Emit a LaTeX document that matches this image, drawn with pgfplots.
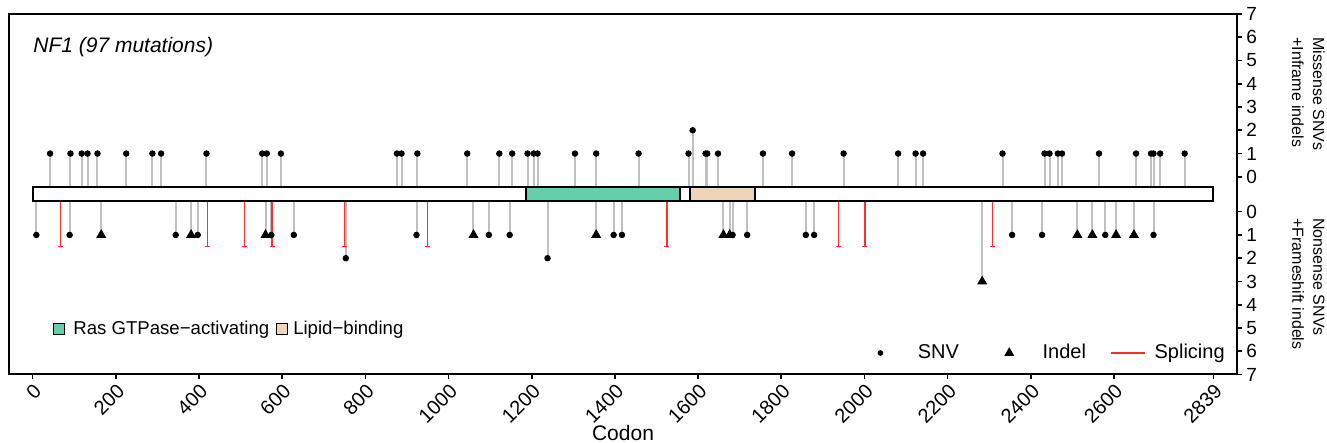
\documentclass[border=0pt]{standalone}
\usepackage{fontspec}
\setmainfont{Liberation Sans}
\usepackage{pgfplots}
\usepackage{pgfplotstable}
\pgfplotsset{compat=1.18}
\definecolor{rasgreen}{RGB}{102,205,170}
\definecolor{lipid}{RGB}{238,213,183}
\definecolor{stemgray}{RGB}{192,192,192}
\definecolor{splred}{RGB}{255,45,45}

% position (codon), number of mutations
\pgfplotstableread{
pos n
42 1
91 1
118 1
132 1
156 1
225 1
288 1
309 1
418 1
552 1
563 1
597 1
876 1
887 1
925 1
1045 1
1122 1
1153 1
1190 1
1205 1
1214 1
1304 1
1355 1
1457 1
1577 1
1587 2
1618 1
1622 1
1648 1
1756 1
1826 1
1950 1
2081 1
2123 1
2141 1
2332 1
2433 1
2445 1
2465 1
2475 1
2564 1
2653 1
2689 1
2695 1
2711 1
2770 1
}\upsnv

\pgfplotstableread{
pos n
9 1
89 1
344 1
397 1
574 1
628 1
753 2
923 1
1097 1
1147 1
1238 2
1397 1
1417 1
1683 1
1718 1
1859 1
1879 1
2355 1
2427 1
2579 1
2695 1
}\lowsnv

\pgfplotstableread{
pos n
165 1
381 1
560 1
1060 1
1355 1
1661 1
1676 1
2283 3
2512 1
2548 1
2605 1
2648 1
}\lowindel

\pgfplotstableread{
pos n
67 1.5
421 1.5
510 1.5
576 1.5
750 1.5
949 1.5
1525 1.5
1938 1.5
2001 1.5
2308 1.5
}\splice

\begin{document}
\begin{tikzpicture}
\pgfplotsset{
  every axis/.append style={
    scale only axis, width=614pt, height=180.25pt,
    xmin=-56.78, xmax=2895.78, ymin=-7.75, ymax=7.75,
    at={(0pt,0pt)}, anchor=south west, clip=false,
  }
}
\begin{axis}[
  axis line style={line width=1pt},
  tick align=outside,
  major tick length=2.5pt,
  tick style={black, line width=0.8pt},
  xtick pos=left,
  ytick pos=right,
  yticklabel pos=right,
  xtick={0,200,400,600,800,1000,1200,1400,1600,1800,2000,2200,2400,2600,2839},
  xticklabels={0,200,400,600,800,1000,1200,1400,1600,1800,2000,2200,2400,2600,2839},
  xticklabel style={rotate=45, anchor=north east, font=\fontsize{10}{12}\selectfont, inner sep=1pt},
  ytick={-7.75,-6.75,-5.75,-4.75,-3.75,-2.75,-1.75,-0.75,0.75,1.75,2.75,3.75,4.75,5.75,6.75,7.75},
  yticklabels={7,6,5,4,3,2,1,0,0,1,2,3,4,5,6,7},
  yticklabel style={font=\fontsize{9.5}{11}\selectfont, inner sep=2pt},
  xlabel={Codon},
  xlabel style={font=\fontsize{10.5}{12}\selectfont, at={(axis description cs:0.5,-0.1623)}, anchor=center},
  legend style={draw=none, fill=none, inner sep=0pt,
    at={(axis description cs:0.9919,0.0596)}, anchor=east,
    font=\fontsize{10}{12}\selectfont,
    nodes={inner sep=1pt},
    /tikz/column 1/.style={column sep=16.5pt},
    /tikz/column 2/.style={column sep=22pt},
    /tikz/column 3/.style={column sep=13.5pt},
    /tikz/column 4/.style={column sep=11pt},
    /tikz/column 5/.style={column sep=3.5pt}},
  legend columns=6,
]
% stems
\addplot[ycomb, stemgray, line width=1pt, no marks, forget plot] table[x=pos, y expr=\thisrow{n}+0.75] {\upsnv};
\addplot[ycomb, stemgray, line width=1pt, no marks, forget plot] table[x=pos, y expr=-\thisrow{n}-0.75] {\lowsnv};
\addplot[ycomb, stemgray, line width=1pt, no marks, forget plot] table[x=pos, y expr=-\thisrow{n}-0.75] {\lowindel};
\addplot[ycomb, splred, line width=0.75pt, mark=-, mark size=1.3pt, forget plot] table[x=pos, y expr=-\thisrow{n}-0.75] {\splice};
% protein and domains
\addplot[draw=black, fill=white, line width=1pt, forget plot] coordinates {(0,-0.3) (2839,-0.3) (2839,0.3) (0,0.3)} -- cycle;
\addplot[draw=black, fill=rasgreen, line width=1pt, forget plot] coordinates {(1187,-0.3) (1557,-0.3) (1557,0.3) (1187,0.3)} -- cycle;
\addplot[draw=black, fill=lipid, line width=1pt, forget plot] coordinates {(1580,-0.3) (1738,-0.3) (1738,0.3) (1580,0.3)} -- cycle;
% marks
\addplot[only marks, mark=*, mark size=1.4pt, black, forget plot] table[x=pos, y expr=\thisrow{n}+0.75] {\upsnv};
\addplot[only marks, mark=*, mark size=1.4pt, black, forget plot] table[x=pos, y expr=-\thisrow{n}-0.75] {\lowsnv};
\addplot[only marks, mark=triangle*, mark size=2.5pt, black, forget plot] table[x=pos, y expr=-\thisrow{n}-0.75] {\lowindel};
% legend
\addlegendimage{only marks, mark=*, mark size=1.2pt, black}
\addlegendentry{SNV}
\addlegendimage{only marks, mark=triangle*, mark size=2.5pt, black}
\addlegendentry{Indel}
\addlegendimage{no marks, splred, line width=0.75pt}
\addlegendentry{Splicing}
% texts
\node[anchor=west, inner sep=0pt, font=\itshape\fontsize{10.5}{12}\selectfont] at (axis description cs:0.0195,0.9085) {NF1 (97 mutations)};
\node[rotate=-90, anchor=north west, align=left, inner sep=0pt, font=\fontsize{8}{10.5}\selectfont] at (axis description cs:1.0717,0.9362) {Missense SNVs\\+Inframe indels};
\node[rotate=-90, anchor=north west, align=left, inner sep=0pt, font=\fontsize{8}{10.5}\selectfont] at (axis description cs:1.0717,0.4341) {Nonsense SNVs\\+Frameshift indels};
\end{axis}
\begin{axis}[
  hide axis,
  legend style={draw=none, fill=none, inner sep=0pt,
    at={(axis description cs:0.0358,0.1262)}, anchor=west,
    font=\fontsize{9.3}{11}\selectfont,
    nodes={inner sep=1pt},
    /tikz/column 1/.style={column sep=3pt},
    /tikz/column 2/.style={column sep=2.5pt},
    /tikz/column 3/.style={column sep=1.5pt}},
  legend columns=4,
  legend image code/.code={\draw[#1] (0pt,-2.75pt) rectangle (5.5pt,2.75pt);},
]
\addlegendimage{fill=rasgreen, draw=black, line width=0.5pt}
\addlegendentry{Ras GTPase−activating}
\addlegendimage{fill=lipid, draw=black, line width=0.5pt}
\addlegendentry{Lipid−binding}
\end{axis}
\pgfresetboundingbox
\path[use as bounding box] (-4.5pt,-34.25pt) rectangle (659pt,187.25pt);
\end{tikzpicture}
\end{document}
